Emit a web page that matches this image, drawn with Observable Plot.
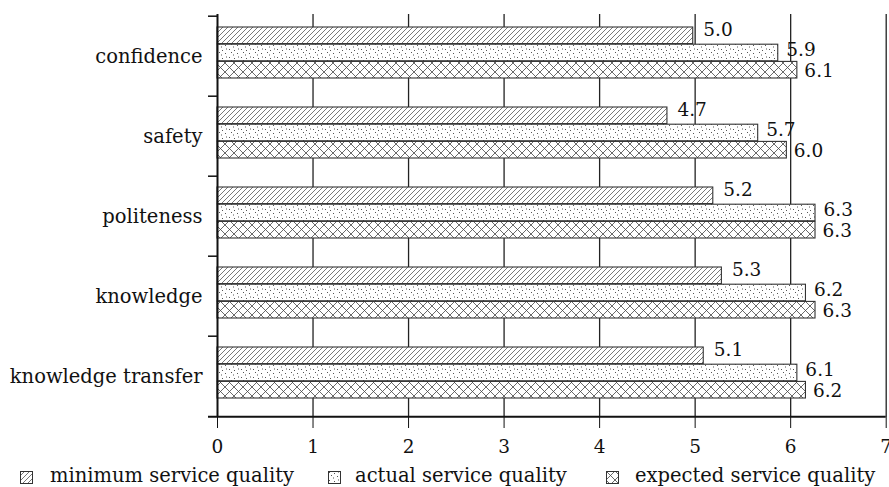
<!DOCTYPE html>
<html><head><meta charset="utf-8">
<script src="https://cdn.jsdelivr.net/npm/d3@7"></script>
<script src="https://cdn.jsdelivr.net/npm/@observablehq/plot@0.6"></script>
<style>
html,body{margin:0;padding:0;background:#fff;overflow:hidden;}
#wrap{position:relative;width:889px;height:487px;font-family:"DejaVu Serif",serif;color:#111;}
#chart{position:absolute;left:0;top:0;}
#chart g[aria-label^="x-axis"] text{font-size:18.5px;}
.leg{position:absolute;top:466px;font-size:19.5px;line-height:20px;white-space:nowrap;}
.sw{position:absolute;top:471px;width:13px;height:13px;}
</style></head><body><div id="wrap"><div id="chart"></div></div>
<script>
// ---- data ----
const categories = ["confidence", "safety", "politeness", "knowledge", "knowledge transfer"];
const seriesNames = ["minimum service quality", "actual service quality", "expected service quality"];
const minimumQuality = [4.98, 4.71, 5.19, 5.28, 5.09];
const actualQuality = [5.87, 5.66, 6.26, 6.16, 6.07];
const expectedQuality = [6.07, 5.96, 6.26, 6.26, 6.16];
const xTicks = [0, 1, 2, 3, 4, 5, 6, 7];

// ---- layout / style ----
const W = 889, H = 460, MT = 14, MB = 43, ML = 217, MR = 3.3;
const step = (H - MT - MB) / categories.length;
const barOffset = 11, barH = 17.2;
const FONT = '"DejaVu Serif", serif';
const fmt = d3.format(".1f");

const series = [
  {name: seriesNames[0], values: minimumQuality, fill: "url(#pat-min)", dx: 10, ddy: -6},
  {name: seriesNames[1], values: actualQuality, fill: "url(#pat-act)", dx: 8, ddy: -3},
  {name: seriesNames[2], values: expectedQuality, fill: "url(#pat-exp)", dx: 7, ddy: 1}
];

const marks = [
  Plot.ruleX(xTicks.filter(d => d > 0), {stroke: "#222", strokeWidth: 1.3})
];
series.forEach((s, i) => {
  const rows = categories.map((c, j) => ({category: c, value: s.values[j]}));
  const top = barOffset + i * barH;
  marks.push(Plot.barX(rows, {
    x1: 0, x2: "value", y: "category",
    fill: s.fill, stroke: "#333", strokeWidth: 1.1,
    insetTop: top, insetBottom: step - top - barH
  }));
  marks.push(Plot.text(rows, {
    x: "value", y: "category", text: d => fmt(d.value),
    textAnchor: "start", dx: s.dx, dy: top + barH / 2 - step / 2 + s.ddy,
    fontSize: 18.5, fill: "#111"
  }));
});
// axis lines and category separators
marks.push(Plot.ruleX([0], {stroke: "#111", strokeWidth: 2}));
marks.push(Plot.ruleY(categories, {y: d => d, x1: 0, x2: 0, insetLeft: -9, dy: -step / 2, stroke: "#111", strokeWidth: 1.5}));
marks.push(Plot.ruleY([categories[categories.length - 1]], {y: d => d, x1: 0, x2: 7, insetLeft: -9, dy: step / 2, stroke: "#111", strokeWidth: 2}));

const chart = Plot.plot({
  width: W, height: H,
  marginTop: MT, marginBottom: MB, marginLeft: ML, marginRight: MR,
  style: {fontFamily: FONT, fontSize: "19.5px", color: "#111", background: "white", overflow: "visible"},
  x: {domain: [0, 7], ticks: xTicks, tickSize: 11, tickPadding: 11, tickFormat: d => String(d), label: null},
  y: {domain: categories, padding: 0, tickSize: 0, tickPadding: 15, label: null},
  marks
});

const defs = `<defs>
<pattern id="pat-min" patternUnits="userSpaceOnUse" width="5" height="5">
 <rect width="5" height="5" fill="#fff"/>
 <path d="M0,5 L5,0 M-1,1 L1,-1 M4,6 L6,4" stroke="#555" stroke-width="0.8"/>
</pattern>
<pattern id="pat-act" patternUnits="userSpaceOnUse" width="12" height="8">
 <rect width="12" height="8" fill="#fff"/>
 <g fill="#555">
 <rect x="1" y="1" width="1" height="1"/><rect x="6" y="2" width="1" height="1"/>
 <rect x="3" y="4" width="1" height="1"/><rect x="9" y="5" width="1" height="1"/>
 <rect x="5" y="6.5" width="1" height="1"/><rect x="10" y="0.5" width="1" height="1"/>
 </g>
</pattern>
<pattern id="pat-exp" patternUnits="userSpaceOnUse" width="9" height="9">
 <rect width="9" height="9" fill="#fff"/>
 <path d="M0,0 L9,9 M0,9 L9,0" stroke="#444" stroke-width="0.8"/>
</pattern>
</defs>`;
chart.insertAdjacentHTML("afterbegin", defs);
document.getElementById("chart").appendChild(chart);

// legend
const wrap = document.getElementById("wrap");
const legendPos = [{sw: 20, tx: 50}, {sw: 328, tx: 355}, {sw: 606, tx: 635}];
series.forEach((s, i) => {
  const sw = document.createElementNS("http://www.w3.org/2000/svg", "svg");
  sw.setAttribute("class", "sw");
  sw.setAttribute("width", 13); sw.setAttribute("height", 13);
  sw.style.left = legendPos[i].sw + "px";
  sw.innerHTML = `<rect x="0.5" y="0.5" width="12" height="12" fill="${s.fill}" stroke="#333" stroke-width="1"/>`;
  wrap.appendChild(sw);
  const t = document.createElement("div");
  t.className = "leg";
  t.style.left = legendPos[i].tx + "px";
  t.textContent = s.name;
  wrap.appendChild(t);
});
</script></body></html>
